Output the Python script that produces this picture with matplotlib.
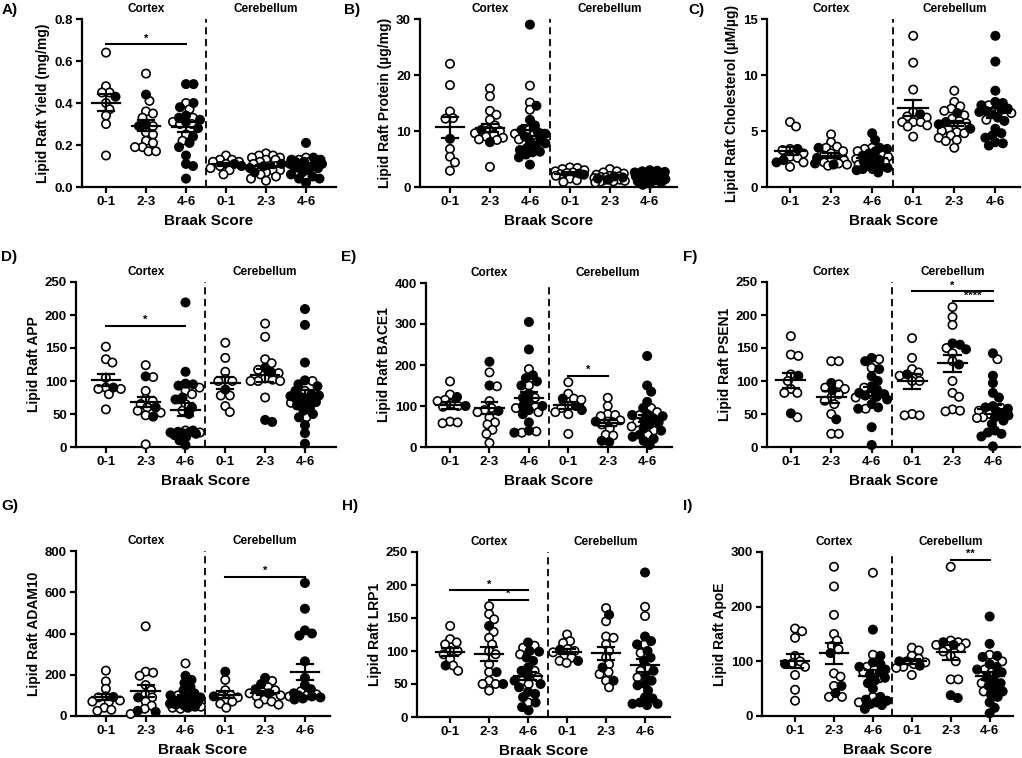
import matplotlib
matplotlib.use('Agg')
import matplotlib.pyplot as plt
import numpy as np

plt.rcParams['font.family'] = ['Liberation Sans', 'DejaVu Sans']
plt.rcParams['font.weight'] = 'bold'
plt.rcParams['axes.labelweight'] = 'bold'

# ---------------- data ----------------
groups = ['0-1', '2-3', '4-6', '0-1', '2-3', '4-6']
regions = ['Cortex', 'Cerebellum']
panel_letters = ['A)', 'B)', 'C)', 'D)', 'E)', 'F)', 'G)', 'H)', 'I)']
ylabels = ['Lipid Raft Yield (mg/mg)', 'Lipid Raft Protein (µg/mg)', 'Lipid Raft Cholesterol (µM/µg)',
           'Lipid Raft APP', 'Lipid Raft BACE1', 'Lipid Raft PSEN1',
           'Lipid Raft ADAM10', 'Lipid Raft LRP1', 'Lipid Raft ApoE']
ymax = [0.8, 30, 15, 250, 400, 250, 800, 250, 300]
ystep = [0.2, 10, 5, 50, 100, 50, 200, 50, 100]

A_open = [[0.64, 0.48, 0.45, 0.45, 0.40, 0.37, 0.34, 0.30, 0.15],
          [0.54, 0.41, 0.36, 0.35, 0.33, 0.29, 0.26, 0.25, 0.22, 0.21, 0.19, 0.19, 0.17, 0.17],
          [0.40, 0.37, 0.33, 0.31, 0.30, 0.30, 0.25, 0.22],
          [0.15, 0.13, 0.13, 0.12, 0.12, 0.11, 0.10, 0.09, 0.08, 0.06],
          [0.16, 0.15, 0.15, 0.14, 0.14, 0.13, 0.13, 0.12, 0.11, 0.10, 0.10, 0.09, 0.08, 0.08, 0.07, 0.06, 0.05, 0.04, 0.03],
          [0.14, 0.13, 0.12, 0.10]]
A_filled = [[0.43],
            [0.44, 0.30, 0.29],
            [0.49, 0.49, 0.40, 0.38, 0.34, 0.33, 0.32, 0.31, 0.28, 0.24, 0.21, 0.19, 0.15, 0.11, 0.10, 0.04],
            [0.11, 0.10],
            [0.11, 0.10, 0.09, 0.07],
            [0.21, 0.14, 0.13, 0.13, 0.12, 0.12, 0.12, 0.11, 0.11, 0.10, 0.10, 0.09, 0.09, 0.08, 0.07, 0.06, 0.05, 0.04, 0.04, 0.02]]

B_open = [[22.0, 18.2, 13.5, 12.3, 12.2, 6.8, 5.4, 4.4, 2.9],
          [17.6, 16.2, 13.6, 12.9, 12.0, 11.0, 10.2, 10.0, 9.6, 9.4, 9.0, 8.8, 8.5, 8.4, 3.6],
          [18.1, 15.1, 13.8, 10.2, 9.5, 9.2, 8.5],
          [3.5, 3.4, 3.2, 3.0, 2.8, 2.6, 2.5, 2.3, 2.0, 1.5, 1.2, 0.9],
          [3.2, 2.8, 2.6, 2.4, 2.2, 2.0, 1.9, 1.8, 1.7, 1.6, 1.5, 1.4, 1.3, 1.2, 1.1, 1.0, 0.9, 0.8],
          [2.2, 1.8]]
B_filled = [[8.6],
            [10.2, 8.0],
            [29.0, 14.5, 12.0, 11.0, 10.2, 9.8, 9.5, 9.0, 8.6, 8.2, 7.8, 7.4, 7.0, 6.6, 6.3, 6.2, 5.8, 5.3, 4.0],
            [2.4, 2.2],
            [1.9, 1.7, 1.5, 1.3],
            [3.0, 2.9, 2.8, 2.7, 2.6, 2.5, 2.4, 2.3, 2.2, 2.1, 2.0, 2.0, 1.9, 1.8, 1.7, 1.6, 1.5, 1.4, 1.3, 1.2, 1.0, 0.8, 0.6, 0.4]]

C_open = [[5.8, 5.4, 3.4, 3.3, 3.0, 2.7, 2.6, 2.2, 1.8],
          [4.7, 4.0, 3.6, 3.5, 3.2, 3.0, 2.8, 2.6, 2.4, 2.3, 2.2, 2.1, 2.0, 1.9],
          [3.5, 3.4, 3.2, 2.9, 2.7, 2.5, 2.2, 2.0],
          [13.5, 11.1, 8.7, 6.7, 6.3, 6.2, 5.8, 5.8, 5.8, 5.5, 5.4, 4.5],
          [8.6, 7.6, 7.2, 7.0, 6.8, 6.4, 6.1, 5.9, 5.7, 5.5, 5.4, 5.2, 5.0, 4.9, 4.8, 4.6, 4.4, 4.2, 4.1, 3.5],
          [7.3, 6.9, 6.6, 6.0]]
C_filled = [[3.4, 2.4, 2.2],
            [3.5, 2.6, 2.1, 2.0],
            [4.8, 4.2, 3.5, 3.4, 3.2, 3.0, 2.8, 2.6, 2.5, 2.4, 2.3, 2.2, 2.0, 1.9, 1.8, 1.7, 1.6, 1.6, 1.5, 1.3],
            [6.5],
            [6.6, 5.8, 5.6, 5.2],
            [13.5, 11.2, 8.6, 7.6, 7.5, 7.3, 7.0, 6.9, 6.8, 6.7, 6.5, 6.2, 5.9, 5.2, 4.8, 4.6, 4.4, 4.0, 3.9, 3.7]]

D_open = [[152, 133, 128, 105, 90, 88, 88, 80, 57],
          [124, 106, 85, 73, 70, 65, 60, 55, 52, 48, 4],
          [90, 85, 80, 65, 55, 25, 22],
          [158, 135, 114, 103, 100, 100, 78, 78, 62, 53],
          [187, 167, 133, 127, 117, 112, 104, 102, 100, 100, 100, 75],
          [100, 85, 67, 45]]
D_filled = [[90],
            [107, 60, 46],
            [219, 114, 96, 95, 93, 75, 72, 60, 50, 25, 23, 22, 22, 21, 20, 18, 15, 10, 3],
            [87],
            [120, 113, 41, 38],
            [209, 185, 128, 101, 95, 92, 85, 80, 78, 77, 75, 73, 70, 68, 66, 63, 60, 55, 50, 45, 33, 21, 5]]

E_open = [[160, 128, 115, 112, 105, 100, 98, 62, 60, 58],
          [182, 148, 112, 95, 90, 85, 72, 60, 55, 42, 32, 10],
          [190, 150, 120, 100, 95, 85, 38, 35],
          [158, 130, 118, 115, 100, 95, 85, 80, 32],
          [120, 100, 80, 78, 75, 65, 62, 60, 55, 45, 30, 28],
          [95, 85, 78, 60, 50, 40, 30]]
E_filled = [[122, 100],
            [208, 150, 88],
            [305, 238, 175, 168, 160, 150, 130, 120, 110, 100, 100, 90, 80, 60, 40, 35],
            [118, 100, 90],
            [62, 15, 12],
            [222, 150, 135, 110, 95, 80, 78, 75, 70, 65, 60, 55, 45, 40, 30, 25, 20, 15, 5]]

F_open = [[168, 140, 138, 110, 100, 88, 82, 82, 45],
          [130, 130, 95, 90, 88, 80, 75, 70, 65, 50, 20, 20],
          [133, 120, 90, 80, 75, 58],
          [165, 135, 118, 113, 108, 100, 100, 50, 48, 48],
          [212, 197, 185, 150, 142, 130, 100, 82, 76, 57, 55, 54],
          [133, 60, 55, 50, 45, 44]]
F_filled = [[108, 51],
            [97, 86, 42],
            [135, 130, 118, 107, 100, 92, 85, 82, 80, 78, 76, 72, 65, 60, 58, 30, 3],
            [110],
            [157, 155, 148, 125],
            [142, 108, 97, 82, 75, 62, 60, 58, 55, 50, 48, 45, 40, 35, 25, 22, 20, 16, 1]]

G_open = [[220, 168, 132, 95, 90, 75, 70, 68, 40, 30, 25],
          [435, 215, 210, 195, 150, 125, 105, 90, 70, 50, 35, 10],
          [255, 100, 60, 55, 45, 40, 35],
          [175, 125, 100, 95, 90, 80, 70, 60, 40],
          [170, 140, 125, 115, 110, 100, 95, 80, 70, 60, 55],
          [120, 105, 100, 95]]
G_filled = [[92],
            [90, 25, 20],
            [195, 175, 160, 140, 125, 110, 100, 95, 90, 85, 80, 75, 70, 65, 60, 55, 50, 45, 40],
            [215, 95],
            [185, 155, 130, 110],
            [645, 520, 415, 400, 390, 265, 185, 150, 130, 110, 100, 95, 90, 85, 80]]

H_open = [[138, 118, 113, 110, 100, 100, 95, 88, 78, 70],
          [168, 156, 148, 129, 120, 110, 100, 95, 80, 68, 55, 50, 50, 40],
          [108, 105, 95, 70, 60, 55, 50, 22],
          [125, 115, 112, 103, 100, 98, 93, 90, 85, 82],
          [165, 145, 122, 120, 110, 100, 90, 80, 68, 65, 55, 45],
          [167, 153, 110, 97, 75, 70, 60]]
H_filled = [[78],
            [138, 68, 50],
            [113, 100, 99, 90, 85, 75, 70, 62, 55, 50, 45, 38, 35, 30, 22, 15, 10],
            [102, 85],
            [155, 75, 55],
            [219, 122, 115, 110, 100, 90, 85, 70, 62, 55, 50, 48, 40, 30, 28, 22, 20, 20, 18]]

I_open = [[160, 155, 143, 110, 100, 97, 90, 75, 48, 28],
          [273, 237, 185, 150, 138, 128, 122, 78, 72, 55, 35, 35],
          [262, 112, 90, 85, 80, 35, 25],
          [125, 120, 110, 105, 100, 98, 95, 90, 88, 75],
          [273, 138, 135, 133, 130, 128, 125, 118, 110, 100, 67, 67],
          [112, 100, 85, 80, 60, 45]]
I_filled = [[95],
            [115, 55, 42],
            [158, 110, 98, 95, 90, 85, 80, 75, 70, 65, 60, 50, 35, 30, 28, 25, 22, 20, 13],
            [100, 92],
            [135, 130, 38, 33],
            [182, 132, 110, 108, 95, 90, 85, 80, 78, 70, 65, 60, 55, 50, 45, 40, 35, 25, 15, 5]]

# significance brackets
sig_panel = [0, 3, 4, 5, 5, 6, 7, 7, 8]
sig_from = [0, 0, 3, 3, 4, 3, 0, 1, 4]
sig_to = [2, 2, 4, 5, 5, 5, 2, 2, 5]
sig_y = [0.68, 184, 174, 236, 221, 674, 192, 178, 286]
sig_text = ['*', '*', '*', '*', '****', '*', '*', '*', '**']

open_sets = [A_open, B_open, C_open, D_open, E_open, F_open, G_open, H_open, I_open]
filled_sets = [A_filled, B_filled, C_filled, D_filled, E_filled, F_filled, G_filled, H_filled, I_filled]

# ---------------- layout (pixels) ----------------
W, H = 1022, 758
fig = plt.figure(figsize=(W / 100, H / 100), dpi=100)

rects = [(82, 336, 19, 187), (420, 677, 19, 187), (767, 1020, 19, 187),
         (76, 336, 282, 447), (426, 672, 283, 447), (767, 1020, 282, 447),
         (76, 330, 551, 716), (417, 670, 552, 717), (762, 1013, 552, 716)]
xlims = [(-0.6, 5.75), (-0.75, 5.68), (-0.56, 5.6),
         (-0.75, 5.78), (-0.61, 5.63), (-0.59, 5.67),
         (-0.75, 5.63), (-0.85, 5.64), (-0.85, 5.6)]
letter_pos = [(2, 10), (344, 10), (688, 10), (1, 257), (341, 257), (683, 257),
              (1, 506), (342, 506), (683, 506)]

DIAM = 10.0  # px


def swarm_offsets(vals, xppu, yppu):
    vals = np.asarray(vals, float)
    order = np.argsort(-vals, kind='stable')
    placed = []
    offs = np.zeros(len(vals))
    step = 0.5
    maxoff = 0.4 * xppu
    cands = [0.0]
    k = 1
    while k * step <= maxoff:
        cands += [k * step, -k * step]
        k += 1
    mind = 0.72 * DIAM
    for i in order:
        y = vals[i] * yppu
        chosen = None
        bestd, bestc = -1, 0.0
        for c in cands:
            if not placed:
                chosen = c
                break
            d = min(np.hypot(c - px, y - py) for px, py in placed)
            if d >= mind:
                chosen = c
                break
            if d > bestd + 0.3:
                bestd, bestc = d, c
        if chosen is None:
            chosen = bestc
        placed.append((chosen, y))
        offs[i] = chosen / xppu
    return offs


axes = []
for p in range(9):
    l, r, t, b = rects[p]
    ax = fig.add_axes([l / W, 1 - b / H, (r - l) / W, (b - t) / H])
    axes.append(ax)
    x0, x1 = xlims[p]
    ax.set_xlim(x0, x1)
    ax.set_ylim(0, ymax[p])
    xppu = (r - l) / (x1 - x0)
    yppu = (b - t) / ymax[p]

    for spine in ['top', 'right']:
        ax.spines[spine].set_visible(False)
    for spine in ['left', 'bottom']:
        ax.spines[spine].set_linewidth(1.6)
    ax.tick_params(axis='both', width=1.6, length=4, labelsize=9.5, pad=2.5)
    ax.set_xticks(range(6))
    ax.set_xticklabels(groups, fontweight='bold')
    ticks = np.arange(0, ymax[p] + ystep[p] / 2, ystep[p])
    ax.set_yticks(ticks)
    if ystep[p] < 1:
        ax.set_yticklabels([f'{v:.1f}' for v in ticks], fontweight='bold')
    else:
        ax.set_yticklabels([f'{v:.0f}' for v in ticks], fontweight='bold')
    ax.set_ylabel(ylabels[p], fontsize=10, fontweight='bold', labelpad=3)
    ax.set_xlabel('Braak Score', fontsize=11, fontweight='bold', labelpad=4)

    ax.axvline(2.5, color='black', lw=1.3, ls=(0, (4, 2.5)), zorder=1)

    for gx, name in zip([1, 4], regions):
        ax.annotate(name, xy=(gx, 1.0), xycoords=('data', 'axes fraction'),
                    xytext=(0, 7.5), textcoords='offset points', ha='center', va='center',
                    fontsize=8.5, fontweight='bold')

    for g in range(6):
        ov = list(open_sets[p][g])
        fv = list(filled_sets[p][g])
        allv = np.array(ov + fv, float)
        isfilled = np.array([False] * len(ov) + [True] * len(fv))
        offs = swarm_offsets(allv, xppu, yppu)
        fc = ['black' if f else 'white' for f in isfilled]
        ax.scatter(g + offs, allv, s=36, facecolors=fc, edgecolors='black',
                   linewidths=1.2, zorder=3, clip_on=False)
        m = allv.mean()
        se = allv.std(ddof=1) / np.sqrt(len(allv))
        ax.plot([g - 0.36, g + 0.36], [m, m], color='black', lw=1.6, zorder=4)
        ax.plot([g - 0.2, g + 0.2], [m + se, m + se], color='black', lw=1.6, zorder=4)
        ax.plot([g - 0.2, g + 0.2], [m - se, m - se], color='black', lw=1.6, zorder=4)
        ax.plot([g, g], [m - se, m + se], color='black', lw=1.6, zorder=4)

    lx, ly = letter_pos[p]
    fig.text(lx / W, 1 - ly / H, panel_letters[p], fontsize=11, fontweight='bold',
             ha='left', va='center')

for k in range(len(sig_panel)):
    ax = axes[sig_panel[k]]
    a, b2 = sig_from[k], sig_to[k]
    yv = sig_y[k]
    ax.plot([a, b2], [yv, yv], color='black', lw=1.5, zorder=4, clip_on=False)
    ax.annotate(sig_text[k], xy=((a + b2) / 2, yv), xytext=(0, 0.5), textcoords='offset points',
                ha='center', va='bottom', fontsize=8, fontweight='bold')

fig.savefig('out.png', dpi=100)
